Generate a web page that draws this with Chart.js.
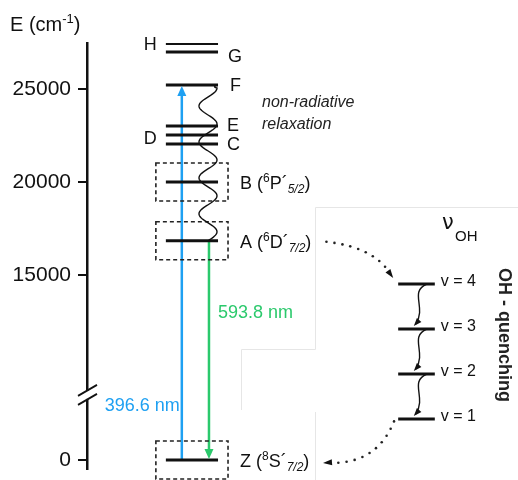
<!DOCTYPE html>
<html>
<head>
<meta charset="utf-8">
<script src="https://cdn.jsdelivr.net/npm/chart.js@4.4.0/dist/chart.umd.min.js"></script>
<style>
  html, body { margin: 0; padding: 0; background: #fff; }
  #wrap { width: 518px; height: 480px; }
</style>
</head>
<body>
<div id="wrap"><canvas id="levels"></canvas></div>
<script>
// energy levels, cm-1
var levelNames = ['Z', 'A', 'B', 'C', 'D', 'E', 'F', 'G', 'H'];
var levelEnergies = [0, 16841, 20000, 22040, 22530, 23010, 25214, 26990, 27440];
var boxedLevels = ['Z', 'A', 'B'];

// axis ticks (axis is broken between 0 and 15000)
var tickValues = [0, 15000, 20000, 25000];
var tickLabels = ['0', '15000', '20000', '25000'];
var breakAt = 10000;
var breakShift = 5054;
var breakMarkEnergy = 3500;

// transitions
var excitationNm = 396.6;
var emissionNm = 593.8;

// OH vibrational ladder
var vibLevels = [1, 2, 3, 4];

var FONT = '"Liberation Sans", Arial, sans-serif';
var BLUE = '#1ea0f2';
var GREEN = '#2bc96c';

// column positions on the hidden x scale
var levelX = [1.83, 3.04];
var exciteX = 2.2;
var emitX = 2.83;
var vibX = [7.22, 8.07];

function toAxis(e) { return e < breakAt ? e + breakShift : e; }
function energyOf(name) { return levelEnergies[levelNames.indexOf(name)]; }

var datasets = [];
levelEnergies.forEach(function (e) {
  datasets.push({
    data: [{ x: levelX[0], y: toAxis(e) }, { x: levelX[1], y: toAxis(e) }],
    showLine: true, borderColor: '#111', borderWidth: 3, pointRadius: 0
  });
});
vibLevels.forEach(function (v) {
  datasets.push({
    data: [{ x: vibX[0], y: v }, { x: vibX[1], y: v }], yAxisID: 'yv',
    showLine: true, borderColor: '#111', borderWidth: 3, pointRadius: 0
  });
});
// 396.6 nm up from Z to F, 593.8 nm down from A to Z (shafts; heads in plugin)
datasets.push({
  data: [{ x: exciteX, y: toAxis(energyOf('Z')) }, { x: exciteX, y: toAxis(energyOf('F')) - 400 }],
  showLine: true, borderColor: BLUE, borderWidth: 2.5, pointRadius: 0
});
datasets.push({
  data: [{ x: emitX, y: toAxis(energyOf('A')) }, { x: emitX, y: toAxis(energyOf('Z')) + 400 }],
  showLine: true, borderColor: GREEN, borderWidth: 2.5, pointRadius: 0
});

function rich(ctx, x, y, parts, size, align) {
  var w = 0;
  parts.forEach(function (p) {
    var s = (p.sup || p.sub) ? Math.round(size * 0.66) : size;
    ctx.font = (p.it ? 'italic ' : '') + s + 'px ' + FONT;
    w += ctx.measureText(p.t).width;
  });
  if (align === 'right') x -= w;
  parts.forEach(function (p) {
    var s = (p.sup || p.sub) ? Math.round(size * 0.66) : size;
    ctx.font = (p.it ? 'italic ' : '') + s + 'px ' + FONT;
    var dy = p.sup ? -size * 0.3 : p.sub ? size * 0.3 : 0;
    ctx.textAlign = 'left';
    ctx.fillText(p.t, x, y + dy);
    x += ctx.measureText(p.t).width;
  });
}

function head(ctx, tx, ty, ang, len, wid, color) {
  ctx.save();
  ctx.translate(tx, ty);
  ctx.rotate(ang);
  ctx.beginPath();
  ctx.moveTo(0, 0);
  ctx.lineTo(-len, -wid / 2);
  ctx.lineTo(-len, wid / 2);
  ctx.closePath();
  ctx.fillStyle = color;
  ctx.fill();
  ctx.restore();
}

function dottedQuad(ctx, x0, y0, cx, cy, x1, y1, step) {
  var pts = [], n = 200, i;
  for (i = 0; i <= n; i++) {
    var t = i / n, u = 1 - t;
    pts.push([u * u * x0 + 2 * u * t * cx + t * t * x1, u * u * y0 + 2 * u * t * cy + t * t * y1]);
  }
  var acc = step;
  ctx.fillStyle = '#222';
  for (i = 1; i < pts.length; i++) {
    acc += Math.hypot(pts[i][0] - pts[i - 1][0], pts[i][1] - pts[i - 1][1]);
    if (acc >= step) {
      acc = 0;
      ctx.beginPath();
      ctx.arc(pts[i][0], pts[i][1], 1.3, 0, Math.PI * 2);
      ctx.fill();
    }
  }
}

var levelLabels = {
  H: { side: 'left', dy: 1, parts: [{ t: 'H' }] },
  G: { side: 'right', dx: 10, dy: 5, parts: [{ t: 'G' }] },
  F: { side: 'right', dx: 12, dy: 1, parts: [{ t: 'F' }] },
  E: { side: 'right', dx: 9, dy: 0, parts: [{ t: 'E' }] },
  D: { side: 'left', dy: 4, parts: [{ t: 'D' }] },
  C: { side: 'right', dx: 9, dy: 1, parts: [{ t: 'C' }] },
  B: { side: 'right', dx: 22, dy: 2, parts: [{ t: 'B (' }, { t: '6', sup: 1 }, { t: 'P´' }, { t: '5/2', sub: 1, it: 1 }, { t: ')' }] },
  A: { side: 'right', dx: 22, dy: 2, parts: [{ t: 'A (' }, { t: '6', sup: 1 }, { t: 'D´' }, { t: '7/2', sub: 1, it: 1 }, { t: ')' }] },
  Z: { side: 'right', dx: 22, dy: 2, parts: [{ t: 'Z (' }, { t: '8', sup: 1 }, { t: 'S´' }, { t: '7/2', sub: 1, it: 1 }, { t: ')' }] }
};

var decor = {
  id: 'decor',
  afterDatasetsDraw: function (chart) {
    var ctx = chart.ctx;
    var sx = chart.scales.x, sy = chart.scales.y, sv = chart.scales.yv;
    var py = function (name) { return sy.getPixelForValue(toAxis(energyOf(name))); };
    var x0 = sx.getPixelForValue(levelX[0]), x1 = sx.getPixelForValue(levelX[1]);
    ctx.save();

    // faint frame of the OH panel
    ctx.strokeStyle = '#e6e6e6';
    ctx.lineWidth = 1;
    ctx.beginPath();
    ctx.moveTo(518, 207.5); ctx.lineTo(315.5, 207.5); ctx.lineTo(315.5, 349.5);
    ctx.lineTo(241.5, 349.5); ctx.lineTo(241.5, 410);
    ctx.moveTo(315.5, 412); ctx.lineTo(315.5, 480);
    ctx.stroke();

    // axis title
    ctx.fillStyle = '#111';
    ctx.textBaseline = 'middle';
    rich(ctx, 10, 25, [{ t: 'E (cm' }, { t: '-1', sup: 1 }, { t: ')' }], 20);

    // axis break
    var yb = sy.getPixelForValue(toAxis(breakMarkEnergy));
    ctx.fillStyle = '#fff';
    ctx.fillRect(sx.left - 3, yb - 4, 6, 8);
    ctx.strokeStyle = '#111';
    ctx.lineWidth = 1.8;
    ctx.beginPath();
    ctx.moveTo(78, yb + 1); ctx.lineTo(97, yb - 10);
    ctx.moveTo(78, yb + 10); ctx.lineTo(97, yb - 1);
    ctx.stroke();

    // dashed boxes
    ctx.setLineDash([4, 3]);
    ctx.lineWidth = 1.6;
    ctx.strokeStyle = '#222';
    boxedLevels.forEach(function (n) {
      var y = py(n);
      ctx.strokeRect(x0 - 10, y - 19, (x1 - x0) + 20, 38);
    });
    ctx.setLineDash([]);

    // level labels
    ctx.fillStyle = '#111';
    Object.keys(levelLabels).forEach(function (n) {
      var L = levelLabels[n];
      var y = py(n) + L.dy;
      if (L.side === 'left') rich(ctx, x0 - 9, y, L.parts, 18, 'right');
      else rich(ctx, x1 + L.dx, y, L.parts, 18);
    });

    // arrow heads
    var xe = sx.getPixelForValue(exciteX), xm = sx.getPixelForValue(emitX);
    head(ctx, xe, py('F') + 1, -Math.PI / 2, 10, 9, BLUE);
    head(ctx, xm, py('Z') - 1, Math.PI / 2, 10, 9, GREEN);

    // wavelength labels
    ctx.font = '18px ' + FONT;
    ctx.fillStyle = BLUE;
    ctx.textAlign = 'right';
    ctx.fillText(excitationNm.toFixed(1) + ' nm', xe - 2, py('Z') - 54);
    ctx.fillStyle = GREEN;
    ctx.textAlign = 'left';
    ctx.fillText(emissionNm.toFixed(1) + ' nm', xm + 9, py('A') + 72);

    // non-radiative relaxation F -> A
    var yF = py('F'), yA = py('A');
    ctx.strokeStyle = '#111';
    ctx.lineWidth = 1.4;
    ctx.beginPath();
    ctx.moveTo(x1 - 1, yF);
    var per = (yA - yF) / 4.25;
    for (var y = yF; y <= yA; y += 1) {
      var k = (y - yF) / per;
      var xx = 208 + 9 * Math.cos(2 * Math.PI * k);
      if (y === yF) ctx.quadraticCurveTo(x1 - 6, yF + 2, xx, y + 3);
      else ctx.lineTo(xx, y + 3 * (1 - (y - yF) / (yA - yF)));
    }
    ctx.lineTo(xm, yA);
    ctx.stroke();

    ctx.font = 'italic 16px ' + FONT;
    ctx.fillStyle = '#222';
    ctx.fillText('non-radiative', 262, 103);
    ctx.fillText('relaxation', 262, 125);

    // OH panel
    var vx0 = sx.getPixelForValue(vibX[0]), vx1 = sx.getPixelForValue(vibX[1]);
    ctx.fillStyle = '#111';
    ctx.font = '21px "DejaVu Sans", sans-serif';
    ctx.fillText('ν', 442, 224);
    ctx.font = '15px ' + FONT;
    ctx.fillText('OH', 455, 237);
    vibLevels.forEach(function (v) {
      ctx.font = '16px ' + FONT;
      ctx.fillText('v = ' + v, vx1 + 6, sv.getPixelForValue(v) - 2);
    });
    for (var i = vibLevels.length - 1; i > 0; i--) {
      var yt = sv.getPixelForValue(vibLevels[i]);
      var yd = sv.getPixelForValue(vibLevels[i - 1]);
      ctx.strokeStyle = '#111';
      ctx.lineWidth = 1.4;
      ctx.beginPath();
      ctx.moveTo(vx1 - 8, yt);
      ctx.bezierCurveTo(vx1 - 26, yt + 8, vx1 - 8, yd - 22, vx1 - 19, yd - 5);
      ctx.stroke();
      head(ctx, vx1 - 21, yd - 3, 2.3, 8, 6, '#111');
    }

    // dotted transfers A -> v=4 and v=1 -> Z
    var yv4 = sv.getPixelForValue(vibLevels[3]), yv1 = sv.getPixelForValue(vibLevels[0]);
    dottedQuad(ctx, 326, yA + 1, 372, yA + 6, vx0 - 9, yv4 - 12, 8);
    head(ctx, vx0 - 5, yv4 - 6, 0.95, 9, 6, '#111');
    dottedQuad(ctx, vx0 - 4, yv1 + 2, 378, py('Z') + 2, 334, py('Z') + 3, 8);
    head(ctx, 323, py('Z') + 3, Math.PI - 0.08, 9, 6, '#111');

    ctx.save();
    ctx.translate(504, 335);
    ctx.rotate(Math.PI / 2);
    ctx.font = 'bold 18px ' + FONT;
    ctx.textAlign = 'center';
    ctx.fillText('OH - quenching', 0, 0);
    ctx.restore();

    ctx.restore();
  }
};

new Chart('levels', {
  type: 'scatter',
  data: { datasets: datasets },
  plugins: [decor],
  options: {
    responsive: true,
    maintainAspectRatio: false,
    animation: false,
    layout: { padding: { top: 43, bottom: 11, left: 0, right: 0 } },
    plugins: { legend: { display: false }, tooltip: { enabled: false } },
    scales: {
      x: { type: 'linear', display: false, min: 0, max: 10 },
      y: {
        type: 'linear', min: 4570, max: 27473,
        afterFit: function (s) {
          s.width = 87;
          s.paddingTop = 0;
          s.paddingBottom = 0;
        },
        afterBuildTicks: function (s) {
          s.ticks = tickValues.map(function (v) { return { value: toAxis(v) }; });
        },
        ticks: {
          color: '#111', padding: 7,
          font: { size: 21, family: FONT },
          callback: function (v, i) { return tickLabels[i]; }
        },
        grid: { drawOnChartArea: false, drawTicks: true, tickLength: 9, color: '#111', lineWidth: 2 },
        border: { display: true, color: '#111', width: 2.5 }
      },
      yv: { type: 'linear', display: false, min: -0.111, max: 9.356 }
    }
  }
});
</script>
</body>
</html>
